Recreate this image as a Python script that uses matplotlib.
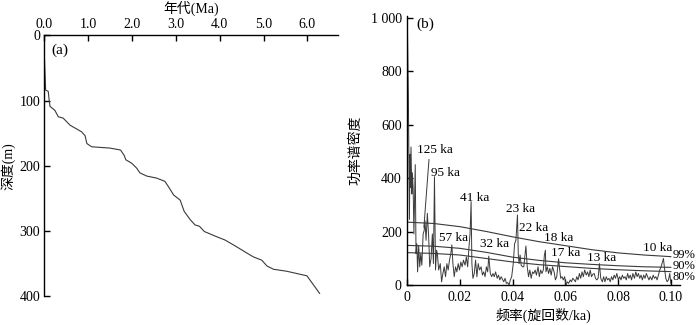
import matplotlib
matplotlib.use("Agg")
import matplotlib.pyplot as plt

plt.rcParams['font.family'] = ['Liberation Serif', 'Noto Sans CJK SC', 'DejaVu Sans']
plt.rcParams['axes.unicode_minus'] = False

# ---------------- Panel (a): age-depth ----------------
age_ma = [0.0, 0.03, 0.09, 0.11, 0.13, 0.24, 0.32, 0.43, 0.59, 0.85, 0.93, 0.97, 1.08,
          1.50, 1.74, 1.82, 1.86, 1.99, 2.11, 2.18, 2.34, 2.56, 2.75, 2.83, 2.95, 3.10,
          3.19, 3.33, 3.44, 3.54, 3.65, 3.93, 4.12, 4.35, 4.62, 4.77, 4.96, 5.08, 5.23,
          5.53, 5.99, 6.28]
depth_m = [30, 84, 86, 99, 109, 115, 125, 127, 138, 148, 154, 166, 171,
           173, 176, 184, 191, 196, 204, 211, 216, 219, 224, 232, 245, 253,
           270, 283, 291, 293, 301, 309, 314, 323, 334, 340, 345, 354, 359,
           362, 369, 396]
age_ticks = [0.0, 1.0, 2.0, 3.0, 4.0, 5.0, 6.0]
depth_ticks = [0, 100, 200, 300, 400]

# ---------------- Panel (b): power spectrum ----------------
freq = [0.0000, 0.0004, 0.0008, 0.0010, 0.0011, 0.0014, 0.0017, 0.0019, 0.0022, 0.0025,
        0.0030, 0.0033, 0.0036, 0.0039, 0.0043, 0.0047, 0.0051, 0.0055, 0.0060, 0.0064,
        0.0067, 0.0071, 0.0076, 0.0081, 0.0085, 0.0090, 0.0095, 0.0099, 0.0103, 0.0107,
        0.0111, 0.0114, 0.0119, 0.0125, 0.0130, 0.0135, 0.0140, 0.0145, 0.0150, 0.0155,
        0.0160, 0.0165, 0.0169, 0.0173, 0.0178, 0.0183, 0.0188, 0.0193, 0.0198, 0.0203,
        0.0208, 0.0213, 0.0219, 0.0224, 0.0229, 0.0234, 0.0238, 0.0242, 0.0245, 0.0249,
        0.0254, 0.0259, 0.0264, 0.0269, 0.0274, 0.0280, 0.0285, 0.0290, 0.0295, 0.0300,
        0.0305, 0.0309, 0.0315, 0.0320, 0.0325, 0.0330, 0.0335, 0.0341, 0.0346, 0.0351,
        0.0356, 0.0361, 0.0366, 0.0371, 0.0376, 0.0381, 0.0386, 0.0391, 0.0396, 0.0402,
        0.0407, 0.0412, 0.0418, 0.0421, 0.0424, 0.0428, 0.0432, 0.0437, 0.0442, 0.0447,
        0.0450, 0.0455, 0.0460, 0.0465, 0.0470, 0.0475, 0.0480, 0.0485, 0.0490, 0.0496,
        0.0501, 0.0506, 0.0511, 0.0516, 0.0520, 0.0524, 0.0526, 0.0531, 0.0536, 0.0541,
        0.0546, 0.0551, 0.0557, 0.0562, 0.0567, 0.0574, 0.0577, 0.0582, 0.0587, 0.0592,
        0.0597, 0.0602, 0.0607, 0.0612, 0.0618, 0.0623, 0.0628, 0.0633, 0.0638, 0.0643,
        0.0648, 0.0653, 0.0658, 0.0663, 0.0668, 0.0673, 0.0679, 0.0684, 0.0689, 0.0694,
        0.0699, 0.0704, 0.0709, 0.0714, 0.0719, 0.0724, 0.0729, 0.0734, 0.0740, 0.0745,
        0.0750, 0.0755, 0.0760, 0.0765, 0.0770, 0.0775, 0.0780, 0.0785, 0.0790, 0.0795,
        0.0801, 0.0806, 0.0811, 0.0816, 0.0821, 0.0826, 0.0831, 0.0836, 0.0841, 0.0846,
        0.0851, 0.0856, 0.0862, 0.0867, 0.0872, 0.0877, 0.0882, 0.0887, 0.0892, 0.0897,
        0.0902, 0.0907, 0.0912, 0.0917, 0.0922, 0.0928, 0.0933, 0.0938, 0.0943, 0.0948,
        0.0953, 0.0958, 0.0963, 0.0968, 0.0972, 0.0976, 0.0981, 0.0986, 0.0991, 0.0996,
        0.1000]
power = [990, 700, 245, 488, 364, 516, 340, 420, 364, 191,
         450, 117, 154, 49, 148, 68, 117, 74, 191, 204,
         240, 167, 268, 179, 68, 99, 191, 80, 405, 56,
         130, 117, 56, 80, 12, 43, 68, 31, 80, 56,
         93, 117, 150, 80, 31, 68, 49, 80, 56, 86,
         68, 93, 74, 105, 68, 142, 191, 312, 80, 25,
         43, 93, 31, 80, 56, 68, 37, 49, 31, 68,
         49, 108, 43, 31, 43, 31, 49, 25, 37, 19,
         31, 21, 12, 25, 6, 9, 0, 19, 31, 80,
         154, 167, 262, 117, 80, 112, 74, 68, 68, 117,
         146, 68, 31, 56, 25, 49, 43, 56, 37, 68,
         31, 56, 43, 56, 111, 130, 49, 68, 43, 62,
         37, 68, 49, 19, 31, 98, 68, 25, 31, 19,
         31, 0, 12, 6, 19, 12, 25, 19, 12, 31,
         19, 43, 25, 49, 31, 56, 37, 49, 31, 56,
         31, 40, 43, 25, 19, 25, 80, 25, 12, 31,
         12, 31, 19, 25, 12, 31, 19, 37, 25, 43,
         19, 31, 19, 37, 25, 31, 19, 43, 25, 37,
         19, 43, 25, 49, 31, 43, 25, 37, 19, 37,
         25, 43, 31, 19, 31, 19, 37, 25, 31, 19,
         37, 56, 68, 86, 99, 62, 25, 12, 19, 43,
         6]

conf_freq = [0.00, 0.01, 0.02, 0.03, 0.04, 0.05, 0.06, 0.07, 0.08, 0.09, 0.10]
conf_99 = [235, 230, 218, 200, 180, 162, 147, 132, 120, 112, 106]
conf_90 = [148, 145, 137, 122, 104, 92, 83, 77, 72, 68, 66]
conf_80 = [121, 118, 112, 99, 86, 76, 69, 62, 57, 53, 50]
conf_labels = ['99%', '90%', '80%']
conf_label_y = [112, 72, 31]

peak_labels = ['125 ka', '95 ka', '41 ka', '23 ka', '22 ka', '18 ka',
               '57 ka', '32 ka', '17 ka', '13 ka', '10 ka']
peak_label_f = [0.0103, 0.0144, 0.0255, 0.0428, 0.0480, 0.0574,
                0.0175, 0.0332, 0.0602, 0.0736, 0.0949]
peak_label_p = [505, 420, 326, 283, 212, 174, 174, 152, 118, 100, 137]

freq_ticks = [0, 0.02, 0.04, 0.06, 0.08, 0.10]
freq_ticklabels = ['0', '0.02', '0.04', '0.06', '0.08', '0.10']
power_ticks = [0, 200, 400, 600, 800, 1000]
power_ticklabels = ['0', '200', '400', '600', '800', '1 000']

line_c = '#3a3a3a'
fs = 10

fig = plt.figure(figsize=(7, 3.25), dpi=100)

# ---- (a)
axa = fig.add_axes([0.0633, 0.0892, 0.4196, 0.802])
axa.plot(age_ma, depth_m, color=line_c, lw=0.8)
axa.set_xlim(0, 6.7)
axa.set_ylim(400, 0)
axa.xaxis.tick_top()
axa.xaxis.set_label_position('top')
axa.set_xticks(age_ticks)
axa.set_xticklabels([f'{v:.1f}' for v in age_ticks])
axa.set_yticks(depth_ticks)
axa.spines['right'].set_visible(False)
axa.spines['bottom'].set_visible(False)
for s in ('top', 'left'):
    axa.spines[s].set_linewidth(1.0)
axa.tick_params(direction='in', length=4, width=1.0, labelsize=fs, pad=3)
axa.set_xlabel('年代(Ma)', fontsize=fs, labelpad=4)
axa.set_ylabel('深度(m)', fontsize=fs, labelpad=3)
axa.text(0.025, 0.944, '(a)', transform=axa.transAxes, fontsize=fs + 1,
         ha='left', va='center')

# ---- (b)
axb = fig.add_axes([0.5819, 0.1231, 0.3896, 0.827])
axb.plot(freq, power, color=line_c, lw=0.7)
for cv in (conf_99, conf_90, conf_80):
    axb.plot(conf_freq, cv, color=line_c, lw=0.8)
for lab, y in zip(conf_labels, conf_label_y):
    axb.text(0.1006, y, lab, fontsize=9, ha='left', va='center')
for lab, f, p in zip(peak_labels, peak_label_f, peak_label_p):
    axb.text(f, p, lab, fontsize=9.5, ha='center', va='center')
# leader line from the 125 ka label to its peak
axb.annotate('', xy=(0.0062, 205), xytext=(0.0083, 480),
             arrowprops=dict(arrowstyle='-', color=line_c, lw=0.7))
axb.set_xlim(0, 0.1035)
axb.set_ylim(0, 1005)
axb.set_xticks(freq_ticks)
axb.set_xticklabels(freq_ticklabels)
axb.set_yticks(power_ticks)
axb.set_yticklabels(power_ticklabels)
axb.spines['right'].set_visible(False)
axb.spines['top'].set_visible(False)
for s in ('bottom', 'left'):
    axb.spines[s].set_linewidth(1.0)
axb.tick_params(direction='in', length=4, width=1.0, labelsize=fs, pad=4)
axb.set_xlabel('频率(旋回数/ka)', fontsize=fs, labelpad=3)
axb.set_ylabel('功率谱密度', fontsize=fs, labelpad=6)
axb.text(0.032, 0.969, '(b)', transform=axb.transAxes, fontsize=fs + 1,
         ha='left', va='center')

fig.savefig('out.png', dpi=100)
